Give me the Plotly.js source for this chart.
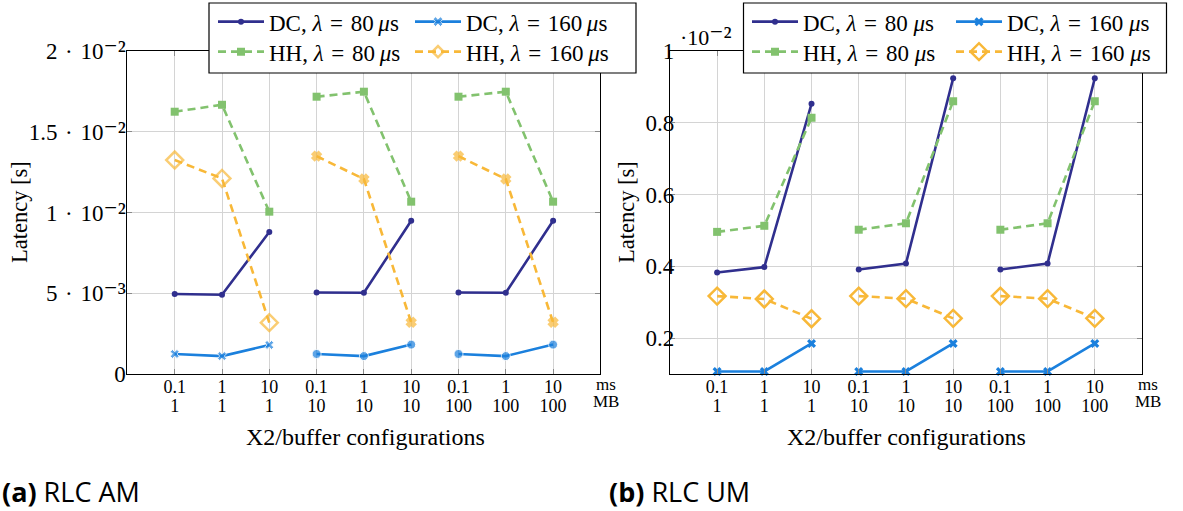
<!DOCTYPE html>
<html>
<head>
<meta charset="utf-8">
<script src="https://cdn.plot.ly/plotly-3.0.1.min.js"></script>
<style>html,body{margin:0;padding:0;background:#fff;}#chart{width:1183px;height:511px;}</style>
</head>
<body>
<div id="chart"></div>
<script>
// ---- data ----
const msTicks = ['0.1','1','10','0.1','1','10','0.1','1','10'];
const mbTicks = ['1','1','1','10','10','10','100','100','100'];
const seriesNamesA = ['DC, <i>λ</i>\u2004=\u200480\u2009<i>μ</i>s','DC, <i>λ</i>\u2004=\u2004160\u2009<i>μ</i>s','HH, <i>λ</i>\u2004=\u200480\u2009<i>μ</i>s','HH, <i>λ</i>\u2004=\u2004160\u2009<i>μ</i>s'];
const seriesNamesB = ['DC, <i>λ</i>\u2004=\u200480 <i>μ</i>s','DC, <i>λ</i>\u2004=\u2004160 <i>μ</i>s','HH, <i>λ</i>\u2004=\u200480 <i>μ</i>s','HH, <i>λ</i>\u2004=\u2004160 <i>μ</i>s'];
const yTicksA = [0, 0.005, 0.01, 0.015, 0.02];
const EXP = s => '<span style="font-size:27px">' + s + '</span>';
const yLabelsA = ['0', '5\u2004·\u200410' + EXP('⁻³'), '1\u2004·\u200410' + EXP('⁻²'), '1.5\u2004·\u200410' + EXP('⁻²'), '2\u2004·\u200410' + EXP('⁻²')];
const yTicksB = [0.2, 0.4, 0.6, 0.8, 1.0];
const yLabelsB = ['0.2', '0.4', '0.6', '0.8', '1'];
// (a) RLC AM latency [s]
const amDC80  = [0.00495,0.00491,0.00879, 0.00505,0.00503,0.00949, 0.00505,0.00503,0.00949];
const amDC160 = [0.00124,0.00111,0.00180, 0.00124,0.00111,0.00182, 0.00124,0.00111,0.00182];
const amHH80  = [0.01624,0.01667,0.01005, 0.01717,0.01748,0.01067, 0.01717,0.01748,0.01067];
const amHH160 = [0.01325,0.01211,0.00318, 0.01349,0.01207,0.00320, 0.01349,0.01207,0.00320];
// (b) RLC UM latency [·10^-2 s]
const umDC80  = [0.383,0.398,0.853, 0.391,0.408,0.924, 0.391,0.408,0.924];
const umDC160 = [0.107,0.107,0.185, 0.107,0.107,0.185, 0.107,0.107,0.185];
const umHH80  = [0.496,0.513,0.814, 0.502,0.520,0.860, 0.502,0.520,0.860];
const umHH160 = [0.317,0.309,0.254, 0.317,0.310,0.255, 0.317,0.310,0.255];

// ---- style ----
const W = 1183, H = 511;
const px = v => v / W, py = v => 1 - v / H;
const C_DC80 = '#302f8e', C_DC160 = '#1b80dd', C_HH80 = '#82c26e', C_HH160 = '#f8b838';
const SERIF = 'Liberation Serif, DejaVu Serif, serif';
const LW = 2.6, DASH = '8px,5px';

const tickPos = msTicks.map((_, i) => i + 1);
function seg(vals, per) {
  const x = [], y = [], extra = per ? [] : null;
  vals.forEach((v, i) => {
    if (i > 0 && i % 3 === 0) { x.push(null); y.push(null); if (per) extra.push(per[i]); }
    x.push(tickPos[i]); y.push(v); if (per) extra.push(per[i]);
  });
  return {x, y, extra};
}
function trace(vals, name, color, dash, marker, xa, ya, leg) {
  const s = seg(vals);
  const m = Object.assign({color: color}, marker);
  ['symbol','size'].forEach(k => { if (Array.isArray(m[k])) m[k] = seg(vals, m[k]).extra; });
  return {type:'scatter', mode:'lines+markers', x:s.x, y:s.y, name:name, xaxis:xa, yaxis:ya,
    legend: leg, showlegend: true, cliponaxis:false, connectgaps:false,
    line:{color:color, width:LW, dash:dash}, marker:m};
}
const g1 = (a, b) => [a,a,a,b,b,b,b,b,b];

const traces = [
  trace(amDC80, seriesNamesA[0], C_DC80, 'solid', {symbol:'circle', size:6}, 'x', 'y', 'legend'),
  trace(amDC160, seriesNamesA[1], C_DC160, 'solid', {symbol:g1('x','circle'), size:g1(8,9)}, 'x', 'y', 'legend2'),
  trace(amHH80, seriesNamesA[2], C_HH80, DASH, {symbol:'square', size:8}, 'x3', 'y', 'legend3'),
  trace(amHH160, seriesNamesA[3], C_HH160, DASH, {symbol:g1('diamond-open','x'), size:g1(13,7), line:{color:C_HH160, width:2.5}}, 'x3', 'y', 'legend4'),
  trace(umDC80, seriesNamesB[0], C_DC80, 'solid', {symbol:'circle', size:6}, 'x2', 'y2', 'legend5'),
  trace(umDC160, seriesNamesB[1], C_DC160, 'solid', {symbol:'x', size:8}, 'x2', 'y2', 'legend6'),
  trace(umHH80, seriesNamesB[2], C_HH80, DASH, {symbol:'square', size:8}, 'x4', 'y2', 'legend7'),
  trace(umHH160, seriesNamesB[3], C_HH160, DASH, {symbol:'diamond-open', size:13, line:{color:C_HH160, width:2.5}}, 'x4', 'y2', 'legend8')
];

const yDom = [py(374), py(51)];
const dom1 = [px(127.4), px(600.4)], dom2 = [px(669.9), px(1142)];
const tickFont = {family: SERIF, size: 18, color: '#000'};
function xax(dom, anchor, text, overlay, standoff) {
  const a = {domain: dom, anchor: anchor, range: [0, 10], tickmode: 'array', tickvals: tickPos, ticktext: text,
    tickfont: tickFont, zeroline: false, fixedrange: true, ticklabelstandoff: standoff, ticklabeloverflow: 'allow'};
  if (overlay) Object.assign(a, {overlaying: overlay, showgrid: false, showline: false, ticks: ''});
  else Object.assign(a, {showgrid: true, gridcolor: '#d4d4d4', gridwidth: 1, showline: true, linecolor: '#000', linewidth: 1,
    mirror: 'ticks', ticks: 'inside', ticklen: 5, tickcolor: '#8a8a8a'});
  return a;
}
function yax(dom, anchor, range, vals, text, standoff) {
  return {domain: dom, anchor: anchor, range: range, tickmode: 'array', tickvals: vals, ticktext: text,
    tickfont: {family: SERIF, size: 23, color: '#000'}, ticklabelstandoff: standoff, ticklabeloverflow: 'allow',
    showgrid: true, gridcolor: '#d4d4d4', zeroline: false,
    showline: true, linecolor: '#000', linewidth: 1, mirror: 'ticks', ticks: 'inside', ticklen: 5, tickcolor: '#8a8a8a', fixedrange: true};
}
function legend(xl, yc) {
  return {x: px(xl), y: py(yc), xanchor: 'left', yanchor: 'middle', orientation: 'h',
    itemwidth: 46, bgcolor: 'rgba(0,0,0,0)', borderwidth: 0, font: {family: SERIF, size: 23, color: '#000'},
    itemclick: false, itemdoubleclick: false};
}
const ann = (x, y, text, size, extra) => Object.assign({xref:'paper', yref:'paper', x:px(x), y:py(y), text:text, showarrow:false,
  font:{family:SERIF, size:size, color:'#000'}, xanchor:'center', yanchor:'middle'}, extra || {});

const layout = {
  width: W, height: H, margin: {l:0, r:0, t:0, b:0}, paper_bgcolor: '#fff', plot_bgcolor: '#fff',
  xaxis: xax(dom1, 'y', msTicks, null, -4),
  xaxis3: xax(dom1, 'y', mbTicks, 'x', 19),
  yaxis: yax(yDom, 'x', [0, 0.02], yTicksA, yLabelsA, -4),
  xaxis2: xax(dom2, 'y2', msTicks, null, -4),
  xaxis4: xax(dom2, 'y2', mbTicks, 'x2', 19),
  yaxis2: yax(yDom, 'x2', [0.1, 1.0], yTicksB, yLabelsB, -10),
  legend: legend(213, 21.7),
  legend2: legend(410, 21.7),
  legend3: legend(213, 51.7),
  legend4: legend(410, 51.7),
  legend5: legend(747, 21.7),
  legend6: legend(951, 21.7),
  legend7: legend(747, 51.7),
  legend8: legend(951, 51.7),
  shapes: [
    {type:'rect', xref:'paper', yref:'paper', x0:px(209), x1:px(636), y0:py(73), y1:py(3), fillcolor:'#fff', line:{color:'#000', width:1.2}, layer:'above'},
    {type:'rect', xref:'paper', yref:'paper', x0:px(743.5), x1:px(1166.5), y0:py(73), y1:py(3), fillcolor:'#fff', line:{color:'#000', width:1.2}, layer:'above'}
  ],
  annotations: [
    ann(19, 212, 'Latency [s]', 22.5, {textangle: -90}),
    ann(626, 212, 'Latency [s]', 22.5, {textangle: -90}),
    ann(365, 437, 'X2/buffer configurations', 24),
    ann(906, 437, 'X2/buffer configurations', 24),
    ann(606, 384, 'ms', 17), ann(606, 401, 'MB', 17),
    ann(1148, 384, 'ms', 17), ann(1148, 401, 'MB', 17),
    ann(706, 36, '·10' + EXP('⁻²'), 22),
    ann(0, 491, '<b>(a)</b> RLC AM', 27, {xanchor:'left', font:{family:'Open Sans, sans-serif', size:27, color:'#000'}}),
    ann(607, 491, '<b>(b)</b> RLC UM', 27, {xanchor:'left', font:{family:'Open Sans, sans-serif', size:27, color:'#000'}})
  ]
};
Plotly.newPlot('chart', traces, layout, {staticPlot: true, displayModeBar: false});
</script>
</body>
</html>
